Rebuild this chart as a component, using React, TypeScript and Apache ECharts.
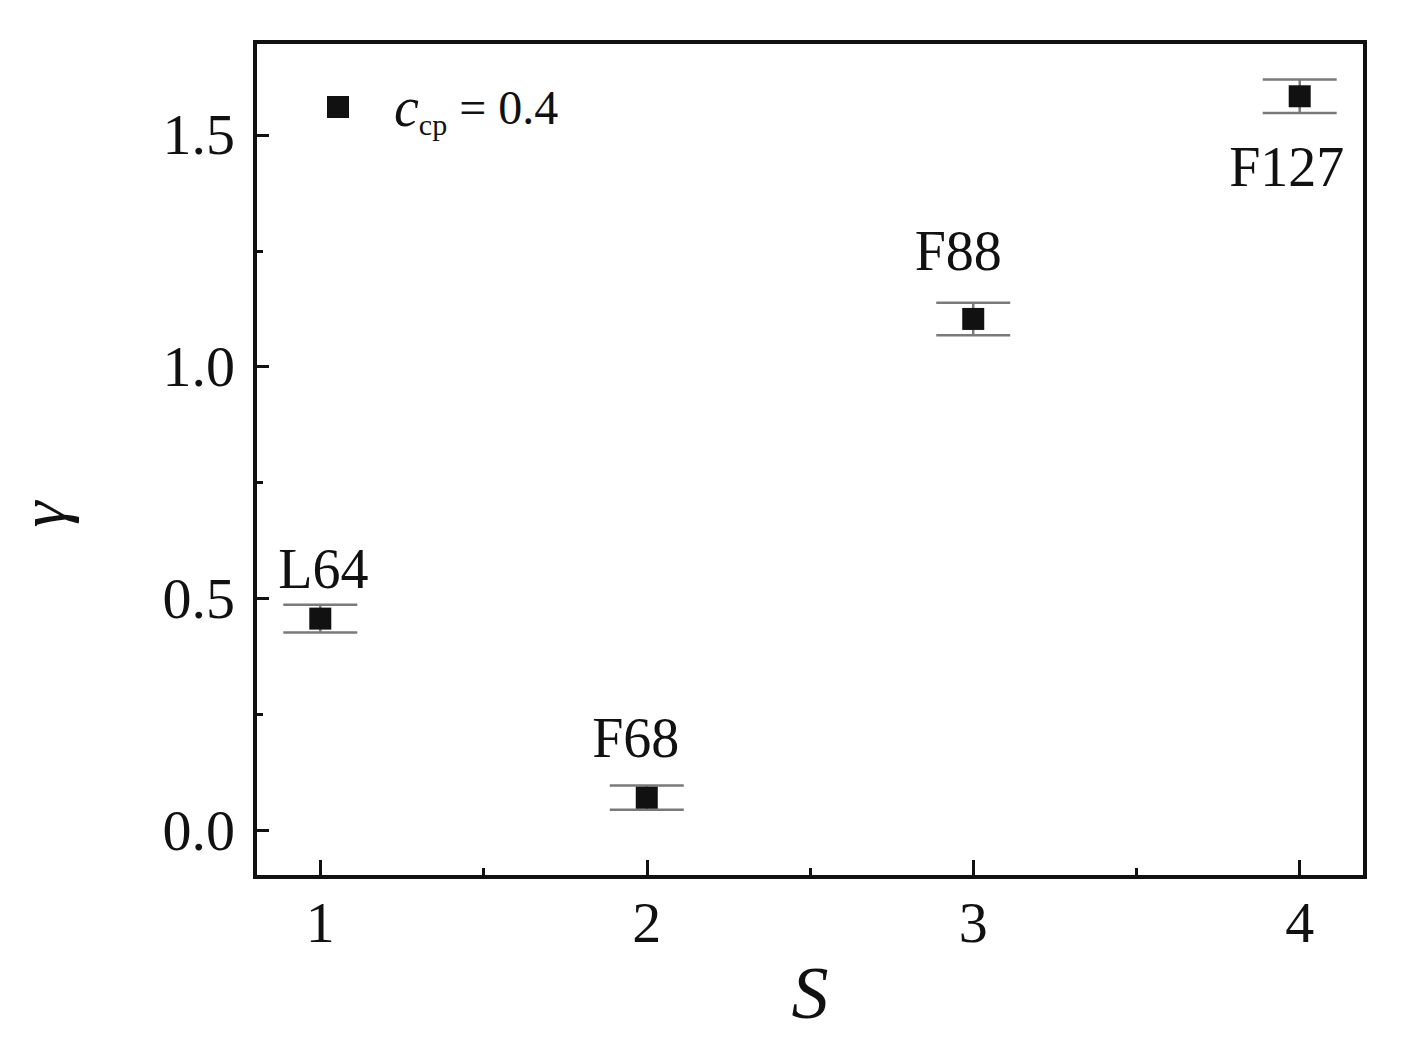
import { useEffect, useRef } from 'react';
import * as echarts from 'echarts';

const surfactants = ['L64', 'F68', 'F88', 'F127'];
const sValues = [1, 2, 3, 4];
const gammaValues = [0.457, 0.071, 1.103, 1.583];
const gammaErrors = [0.03, 0.026, 0.035, 0.036];
const xMajorTicks = [1, 2, 3, 4];
const xMinorTicks = [1.5, 2.5, 3.5];
const yMajorTicks = [0, 0.5, 1.0, 1.5];
const yMinorTicks = [0.25, 0.75, 1.25];
const seriesName = 'c_cp = 0.4';

// where each point's label sits (style only)
const labelPlacement = [
    { position: 'top', distance: 11, offset: [3, 0] },
    { position: 'top', distance: 21, offset: [-11, 0] },
    { position: 'top', distance: 29, offset: [-15, 0] },
    { position: 'bottom', distance: 32, offset: [-13, 0] },
];

const FONT = '"Liberation Serif", "Times New Roman", serif';

const App = () => {
    const chartRef = useRef(null);

    useEffect(() => {
        if (!chartRef.current) return;
        const myChart = echarts.init(chartRef.current, null, { renderer: 'svg' });

        const scatterData = sValues.map((s, i) => ({
            value: [s, gammaValues[i]],
            name: surfactants[i],
            label: labelPlacement[i],
        }));
        const errData = sValues.map((s, i) => [s, gammaValues[i], gammaErrors[i]]);

        const baseX = {
            type: 'value',
            min: 0.8,
            max: 4.2,
            position: 'bottom',
            splitLine: { show: false },
        };
        const baseY = {
            type: 'value',
            min: -0.1,
            max: 1.7,
            position: 'left',
            splitLine: { show: false },
        };

        const option = {
            animation: false,
            backgroundColor: '#ffffff',
            textStyle: { fontFamily: FONT, color: '#111' },
            grid: {
                left: 255,
                right: 37,
                top: 42,
                bottom: 173,
                show: true,
                borderColor: '#111',
                borderWidth: 4,
                containLabel: false,
                outerBoundsMode: 'none',
            },
            legend: {
                data: [seriesName],
                left: 322,
                top: 74,
                icon: 'rect',
                itemWidth: 22,
                itemHeight: 22,
                formatter: () => '{c|c}{s|cp}{t| = 0.4}',
                textStyle: {
                    fontFamily: FONT,
                    color: '#111',
                    rich: {
                        c: { fontFamily: FONT, fontStyle: 'italic', fontSize: 56, padding: [0, 0, 0, 40], lineHeight: 64, verticalAlign: 'middle' },
                        s: { fontFamily: FONT, fontSize: 30, lineHeight: 64, verticalAlign: 'bottom' },
                        t: { fontFamily: FONT, fontSize: 48, lineHeight: 64, verticalAlign: 'middle' },
                    },
                },
            },
            xAxis: [
                {
                    ...baseX,
                    name: 'S',
                    nameLocation: 'middle',
                    nameGap: 63,
                    nameTextStyle: { fontFamily: FONT, fontStyle: 'italic', fontSize: 74, color: '#111' },
                    axisLine: { onZero: false, lineStyle: { color: '#111', width: 4 } },
                    axisTick: { inside: true, length: 17, lineStyle: { color: '#111', width: 3 }, customValues: xMajorTicks },
                    axisLabel: {
                        customValues: xMajorTicks,
                        margin: 16,
                        fontFamily: FONT,
                        fontSize: 58,
                        color: '#111',
                    },
                },
                {
                    ...baseX,
                    axisLine: { show: false, onZero: false },
                    axisTick: { inside: true, length: 9, lineStyle: { color: '#111', width: 3 }, customValues: xMinorTicks },
                    axisLabel: { show: false },
                },
            ],
            yAxis: [
                {
                    ...baseY,
                    name: 'γ',
                    nameLocation: 'middle',
                    nameGap: 180,
                    nameTextStyle: { fontFamily: FONT, fontStyle: 'italic', fontSize: 66, color: '#111', padding: [0, 110, 0, 0] },
                    axisLine: { onZero: false, lineStyle: { color: '#111', width: 4 } },
                    axisTick: { inside: true, length: 14, lineStyle: { color: '#111', width: 3 }, customValues: yMajorTicks },
                    axisLabel: {
                        customValues: yMajorTicks,
                        margin: 20,
                        fontFamily: FONT,
                        fontSize: 58,
                        color: '#111',
                        formatter: (v: number) => v.toFixed(1),
                    },
                },
                {
                    ...baseY,
                    axisLine: { show: false, onZero: false },
                    axisTick: { inside: true, length: 8, lineStyle: { color: '#111', width: 3 }, customValues: yMinorTicks },
                    axisLabel: { show: false },
                },
            ],
            series: [
                {
                    name: 'error',
                    type: 'custom',
                    xAxisIndex: 0,
                    yAxisIndex: 0,
                    z: 1,
                    data: errData,
                    renderItem: (params: any, api: any) => {
                        const x = api.value(0);
                        const y = api.value(1);
                        const e = api.value(2);
                        const top = api.coord([x, y + e]);
                        const bot = api.coord([x, y - e]);
                        const half = 37;
                        const st = { stroke: '#7a7a7a', lineWidth: 2.5 };
                        return {
                            type: 'group',
                            children: [
                                { type: 'line', shape: { x1: top[0], y1: top[1], x2: bot[0], y2: bot[1] }, style: st },
                                { type: 'line', shape: { x1: top[0] - half, y1: top[1], x2: top[0] + half, y2: top[1] }, style: st },
                                { type: 'line', shape: { x1: bot[0] - half, y1: bot[1], x2: bot[0] + half, y2: bot[1] }, style: st },
                            ],
                        };
                    },
                },
                {
                    name: seriesName,
                    type: 'scatter',
                    xAxisIndex: 0,
                    yAxisIndex: 0,
                    z: 3,
                    symbol: 'rect',
                    symbolSize: 22,
                    itemStyle: { color: '#111', opacity: 1 },
                    data: scatterData,
                    label: {
                        show: true,
                        formatter: (p: any) => p.name,
                        fontFamily: FONT,
                        fontSize: 56,
                        color: '#111',
                    },
                },
            ],
        };

        myChart.setOption(option as any);

        return () => {
            myChart.dispose();
        };
    }, []);

    return (
        <div
            ref={chartRef}
            style={{ position: 'fixed', left: 0, top: 0, width: '1402px', height: '1050px' }}
        />
    );
};

export default App;
